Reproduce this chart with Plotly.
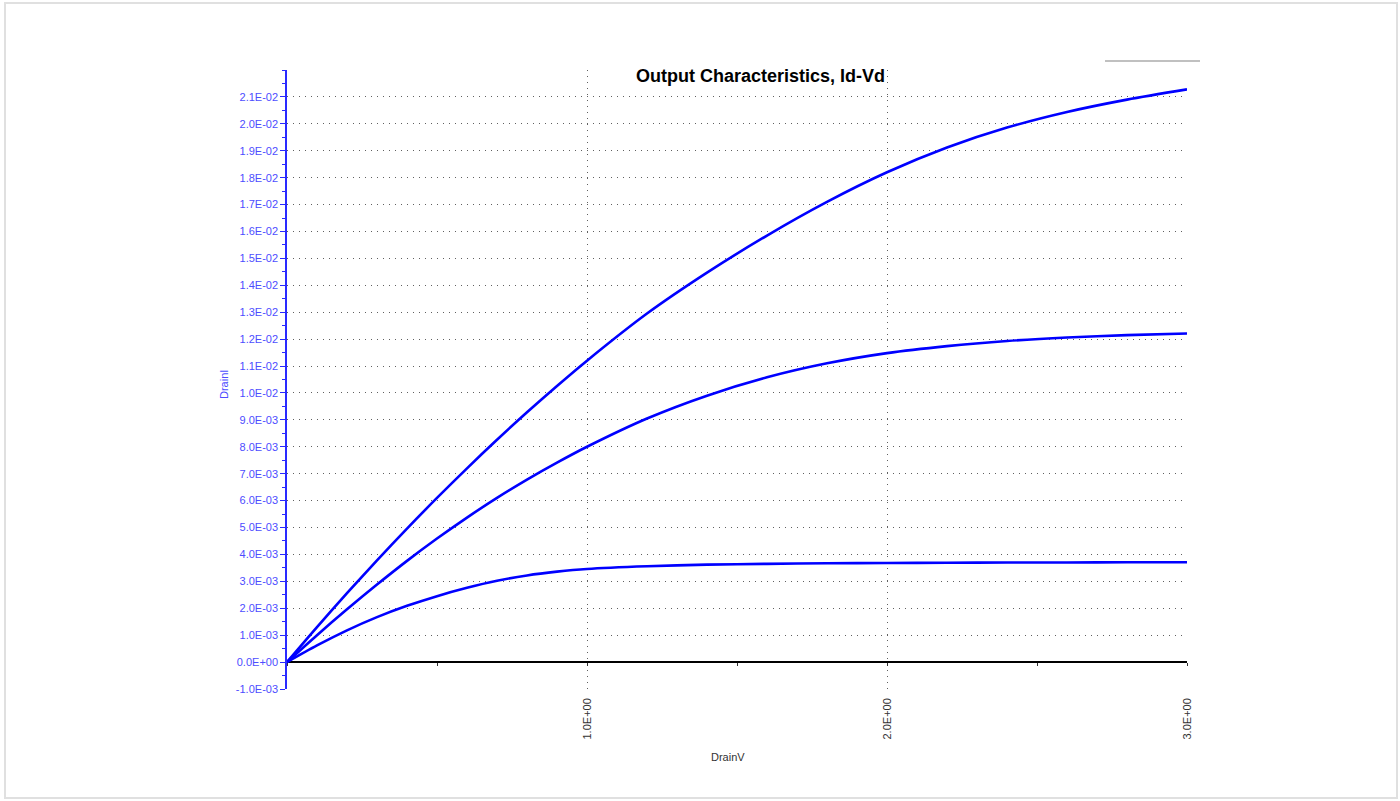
import plotly.graph_objects as go

# Drain voltage (V)
drain_v = [0, 0.1, 0.2, 0.3, 0.4, 0.5, 0.6, 0.7, 0.8, 0.9, 1.0, 1.2, 1.4, 1.6,
           1.8, 2.0, 2.2, 2.4, 2.6, 2.8, 3.0]

# Drain current (A) for three gate voltages
id_high = [0, 0.00130, 0.00256, 0.00378, 0.00496, 0.00610, 0.00720, 0.00826,
           0.00928, 0.01026, 0.01120, 0.01295, 0.01447, 0.01585, 0.01710,
           0.01820, 0.01912, 0.01986, 0.02044, 0.02090, 0.02128]
id_mid = [0, 0.00100, 0.00196, 0.00288, 0.00376, 0.00459, 0.00537, 0.00610,
          0.00678, 0.00741, 0.00800, 0.00905, 0.00990, 0.01058, 0.01110,
          0.01148, 0.01174, 0.01193, 0.01206, 0.01215, 0.01221]
id_low = [0, 0.00062, 0.00118, 0.00167, 0.00209, 0.00245, 0.00276, 0.00302,
          0.00322, 0.00336, 0.00346, 0.00356, 0.00362, 0.00365, 0.00367,
          0.00368, 0.00369, 0.00370, 0.00370, 0.00371, 0.00371]

y_tick_vals = [round(-0.001 + 0.001 * i, 4) for i in range(23)]   # -1E-03 .. 2.1E-02
y_tick_text = [f"{v:.1E}" for v in y_tick_vals]
x_tick_vals = [1.0, 2.0, 3.0]
x_tick_text = ["1.0E+00", "2.0E+00", "3.0E+00"]

title_text = "Output Characteristics, Id-Vd"
x_title = "DrainV"
y_title = "DrainI"

FONT = "Liberation Sans, Arial, sans-serif"
BLUE_LINE = "#0000ff"
AXIS_BLUE = "#2a2aff"
LABEL_BLUE = "#4d4dff"
GRID = "#606060"

fig = go.Figure()
for series in (id_high, id_mid, id_low):
    fig.add_trace(go.Scatter(x=drain_v, y=series, mode="lines",
                             line=dict(color=BLUE_LINE, width=2.6, shape="spline",
                                       smoothing=0.8),
                             showlegend=False, hoverinfo="x+y"))

fig.add_trace(go.Scatter(x=[0, 3], y=[0, 0], xaxis="x2", mode="lines",
                         line=dict(width=0), opacity=0, showlegend=False,
                         hoverinfo="skip"))

fig.update_layout(
    width=1400, height=801,
    margin=dict(l=287, r=213, t=70, b=112),
    paper_bgcolor="white", plot_bgcolor="white",
    font=dict(family=FONT, size=11, color="#333333"),
    showlegend=False,
    xaxis=dict(
        range=[0, 3], tickvals=x_tick_vals, ticktext=x_tick_text,
        tickangle=-90, ticks="", ticklabelstandoff=6,
        tickfont=dict(family=FONT, size=11, color="#333333"),
        showline=False, zeroline=False,
        showgrid=True, gridcolor=GRID, gridwidth=1, griddash="1px,5px",
        fixedrange=True,
    ),
    xaxis2=dict(
        overlaying="x", anchor="free", position=0.001 / 0.023,
        range=[0, 3], dtick=0.5, tick0=0, ticks="outside", ticklen=3,
        tickcolor="#333333", showticklabels=False, showgrid=False,
        showline=False, zeroline=False,
    ),
    yaxis=dict(
        range=[-0.001, 0.022], tickvals=y_tick_vals, ticktext=y_tick_text,
        ticks="outside", ticklen=5, tickcolor=AXIS_BLUE, tickwidth=1,
        tickfont=dict(family=FONT, size=11, color=LABEL_BLUE),
        showline=True, linecolor=AXIS_BLUE, linewidth=1.5,
        showgrid=True, gridcolor=GRID, gridwidth=1, griddash="1px,5px",
        zeroline=True, zerolinecolor="#000000", zerolinewidth=1.5,
        minor=dict(dtick=0.0005, tick0=-0.001, ticks="outside", ticklen=3,
                   tickcolor=AXIS_BLUE, showgrid=False),
        fixedrange=True,
    ),
    annotations=[
        dict(text=f"<b>{title_text}</b>", xref="paper", yref="paper",
             x=(760 - 287) / 900, y=(689 - 76.5) / 619, xanchor="center",
             yanchor="middle", showarrow=False,
             font=dict(family=FONT, size=18, color="#000000")),
        dict(text=x_title, xref="paper", yref="paper",
             x=(728 - 287) / 900, y=(689 - 757) / 619, xanchor="center",
             yanchor="middle", showarrow=False,
             font=dict(family=FONT, size=11, color="#333333")),
        dict(text=y_title, xref="paper", yref="paper",
             x=(224 - 287) / 900, y=(689 - 385) / 619, xanchor="center",
             yanchor="middle", textangle=-90, showarrow=False,
             font=dict(family=FONT, size=11, color=LABEL_BLUE)),
    ],
    shapes=[
        dict(type="rect", xref="paper", yref="paper",
             x0=(5 - 287) / 900, x1=(1397 - 287) / 900,
             y0=(689 - 798) / 619, y1=(689 - 3) / 619,
             line=dict(color="#e0e0e0", width=2), layer="below"),
        dict(type="line", xref="paper", yref="paper",
             x0=(1105 - 287) / 900, x1=(1200 - 287) / 900,
             y0=(689 - 61) / 619, y1=(689 - 61) / 619,
             line=dict(color="#c0c0c0", width=2)),
    ],
)

fig.write_html(
    "out.html",
    config={"displayModeBar": False},
    post_script="document.body.style.margin='0';document.body.style.overflow='hidden';",
)
